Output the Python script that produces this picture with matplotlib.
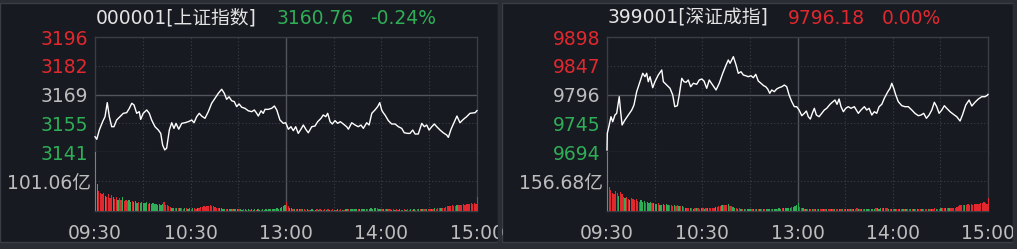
import numpy as np
import matplotlib
matplotlib.use('Agg')
from matplotlib import pyplot as plt
from matplotlib.patches import Rectangle

# ---- data: Shanghai composite (000001) ----
sh_t = [0, 1.1, 2.7, 4.8, 6.3, 7.7, 9.0, 10.5, 11.9, 13.6,
        15.7, 17.8, 19.9, 21.6, 23.1, 24.5, 26.2, 27.8, 28.7, 30.3,
        32.5, 34.1, 35.6, 37.7, 39.8, 41.3, 42.5, 43.8, 45.0, 46.7,
        48.2, 49.6, 50.9, 52.6, 54.5, 56.5, 58.6, 60.8, 62.2, 63.9,
        65.5, 67.0, 69.1, 71.2, 73.3, 75.4, 77.5, 79.6, 81.2, 82.7,
        84.2, 85.9, 87.5, 89.0, 90.5, 92.2, 94.2, 96.3, 98.5, 100.1,
        101.6, 102.6, 104.3, 105.7, 106.8, 108.9, 111.0, 112.7, 114.2, 116.2,
        118.3, 119.8, 121.5, 123.1, 124.6, 126.1, 127.7, 129.4, 130.9, 132.4,
        134.0, 136.2, 138.2, 139.9, 142.0, 143.4, 145.0, 146.2, 147.7, 149.1,
        150.8, 152.5, 154.1, 156.0, 158.1, 159.2, 161.3, 163.4, 165.4, 167.1,
        168.6, 170.7, 172.2, 173.9, 175.9, 177.6, 178.9, 180.1, 181.1, 182.2,
        184.3, 186.4, 188.5, 190.6, 192.7, 194.3, 196.5, 197.9, 199.6, 201.1,
        203.1, 205.3, 206.9, 208.4, 209.9, 211.6, 213.2, 214.7, 216.8, 218.8,
        221.0, 222.0, 223.7, 225.8, 227.4, 229.3, 231.4, 233.5, 235.6, 238.8,
        240]
sh_p = [3148.3, 3147.1, 3151.5, 3155.5, 3157.9, 3164.6, 3157.9, 3153.1, 3153.1, 3156.3,
        3157.9, 3159.5, 3159.8, 3161.9, 3164.3, 3163.5, 3159.5, 3160.3, 3156.6, 3159.5,
        3161.1, 3159.5, 3156.3, 3153.1, 3151.5, 3149.9, 3144.3, 3142.0, 3142.8, 3151.5,
        3155.0, 3152.3, 3154.7, 3151.9, 3154.7, 3155.0, 3155.5, 3156.3, 3155.0, 3157.9,
        3159.5, 3158.2, 3157.1, 3160.3, 3164.3, 3166.7, 3169.1, 3171.0, 3169.1, 3166.2,
        3167.4, 3165.5, 3165.1, 3162.7, 3164.0, 3162.4, 3161.9, 3160.7, 3160.3, 3161.1,
        3159.5, 3158.2, 3160.7, 3159.5, 3161.4, 3161.4, 3161.9, 3163.0, 3161.1, 3156.3,
        3154.7, 3155.0, 3151.9, 3153.1, 3151.2, 3153.1, 3149.9, 3151.9, 3153.9, 3151.9,
        3150.2, 3153.1, 3153.4, 3155.5, 3157.1, 3158.7, 3157.9, 3159.5, 3155.5, 3154.4,
        3156.0, 3154.7, 3155.5, 3154.4, 3153.1, 3151.9, 3155.0, 3153.9, 3153.1, 3153.9,
        3152.3, 3155.0, 3153.9, 3159.5, 3161.1, 3162.7, 3164.6, 3161.1, 3159.8, 3158.7,
        3156.0, 3154.4, 3154.4, 3153.1, 3152.3, 3150.2, 3149.9, 3149.9, 3151.5, 3149.6,
        3149.6, 3154.7, 3153.1, 3153.9, 3151.5, 3153.1, 3154.4, 3153.1, 3151.5, 3150.2,
        3149.1, 3148.0, 3151.9, 3155.5, 3158.2, 3155.0, 3156.6, 3157.9, 3159.5, 3159.8,
        3160.8]
sh_vol = [202, 92, 66, 60, 56, 62, 50, 48, 58, 44, 52, 46, 40, 48, 38, 42, 36, 45, 34, 38,
          33, 36, 30, 34, 28, 32, 27, 30, 26, 29, 27, 25, 28, 24, 26, 22, 25, 21, 23, 20,
          22, 19, 24, 28, 20, 18, 15, 12, 10, 9, 8, 9, 7, 8, 7, 6, 8, 7, 6, 7,
          6, 7, 8, 6, 9, 10, 12, 11, 14, 13, 16, 15, 18, 14, 17, 12, 10, 8, 9, 7,
          6, 5, 6, 5, 4, 5, 4, 5, 4, 4, 5, 4, 3, 4, 4, 3, 4, 3, 4, 3,
          4, 3, 4, 3, 3, 4, 3, 4, 3, 4, 5, 4, 6, 5, 7, 6, 9, 12, 15, 18,
          30, 16, 10, 7, 6, 5, 5, 4, 4, 5, 4, 4, 3, 4, 3, 3, 4, 3, 3, 4,
          3, 4, 3, 3, 4, 3, 4, 3, 3, 4, 3, 3, 4, 3, 4, 3, 3, 4, 5, 4,
          4, 5, 4, 4, 5, 4, 5, 4, 4, 5, 4, 6, 5, 7, 6, 8, 9, 7, 6, 5,
          5, 4, 4, 5, 4, 4, 3, 4, 3, 4, 3, 4, 3, 3, 4, 3, 4, 3, 4, 3,
          4, 3, 4, 4, 5, 4, 5, 4, 5, 6, 5, 6, 5, 7, 6, 7, 8, 7, 9, 8,
          12, 14, 16, 15, 18, 17, 16, 19, 18, 20, 19, 21, 20, 22, 21, 23, 25, 24, 26, 22, 48]
sh_dir = ("ggrrrrgrrrrgrrgrrgrr" "rggrgggrgggggrgggggg" "gggrrrrrggrgrgrrgrgg"
          "rgrrgrrrrrrrrrrrrrgg" "ggrgggrgggrggrgggrgg" "grggrgggrggggrgggggg"
          "rrggrgrggrgrrgrggrgr" "grgrrgrgrrgrgrrgrggr" "ggrggrgggggrgggggrgg"
          "rgrgrrgrgrrgrgrgrrgr" "grrgrgrrgrrgrgrrrgrr" "rrrrrrrgrrrrrrrrrrrrr")
sh_ticks = ['3141', '3155', '3169', '3182', '3196']
sh_range = (3141.0, 3196.0)
sh_vmax = 101.06

# ---- data: Shenzhen component (399001) ----
sz_t = [0, 0.2, 1.4, 2.5, 3.6, 5.0, 6.1, 7.7, 8.6, 9.5,
        11.3, 13.4, 15.6, 17.0, 18.7, 20.8, 22.5, 23.9, 25.0, 26.0,
        27.1, 28.8, 30.2, 32.3, 34.5, 35.5, 37.6, 39.7, 41.4, 42.7,
        44.3, 45.5, 47.1, 48.5, 49.8, 51.2, 52.7, 54.4, 56.5, 58.1,
        59.7, 61.1, 62.8, 64.4, 66.6, 68.7, 70.7, 72.9, 75.0, 76.4,
        77.5, 79.6, 81.3, 82.7, 84.4, 85.9, 87.4, 89.0, 90.7, 92.2,
        93.7, 95.3, 97.0, 98.7, 100.0, 101.2, 102.5, 103.8, 105.4, 106.9,
        108.4, 110.1, 111.7, 113.2, 114.7, 116.4, 118.0, 119.5, 121.0, 122.7,
        124.3, 125.6, 126.8, 128.1, 129.3, 130.6, 131.9, 133.6, 135.3, 136.9,
        138.4, 140.5, 141.9, 143.6, 144.9, 146.2, 147.4, 148.9, 150.4, 152.0,
        153.7, 155.8, 158.3, 160.0, 162.1, 163.6, 165.1, 166.8, 168.4, 169.9,
        171.4, 173.1, 174.7, 176.9, 178.3, 179.4, 180.6, 181.9, 183.5, 185.7,
        187.7, 189.8, 192.0, 194.0, 196.1, 197.8, 199.5, 201.2, 202.9, 204.6,
        206.2, 207.7, 209.2, 210.9, 212.5, 214.0, 216.1, 218.2, 220.3, 222.4,
        223.9, 226.0, 228.1, 229.8, 231.8, 233.9, 236.1, 238.1, 239.8, 240]
sz_p = [9697.5, 9727.2, 9741.9, 9756.6, 9747.7, 9759.6, 9762.6, 9792.1, 9765.5, 9741.9,
        9750.8, 9759.6, 9768.5, 9777.4, 9801.0, 9818.7, 9833.6, 9827.6, 9833.6, 9818.7,
        9827.6, 9808.1, 9818.7, 9830.6, 9839.5, 9818.7, 9812.8, 9807.0, 9795.1, 9774.4,
        9776.1, 9795.1, 9824.7, 9818.7, 9817.6, 9821.7, 9809.8, 9815.9, 9814.1, 9821.7,
        9823.5, 9819.9, 9807.0, 9821.7, 9812.8, 9804.0, 9815.9, 9833.6, 9848.3, 9857.2,
        9851.3, 9863.1, 9848.3, 9833.6, 9836.4, 9830.6, 9829.3, 9827.6, 9829.3, 9825.8,
        9831.8, 9819.9, 9815.9, 9811.6, 9809.8, 9805.8, 9798.1, 9804.0, 9801.0, 9805.8,
        9808.1, 9809.8, 9812.8, 9809.8, 9795.1, 9783.2, 9774.4, 9774.4, 9768.5, 9758.4,
        9762.6, 9766.7, 9756.6, 9752.5, 9762.6, 9771.5, 9759.6, 9756.6, 9762.6, 9768.5,
        9771.5, 9778.6, 9782.2, 9786.2, 9778.6, 9788.0, 9774.4, 9765.5, 9771.5, 9774.4,
        9771.5, 9774.4, 9762.6, 9768.5, 9774.4, 9768.5, 9771.5, 9759.6, 9765.5, 9762.6,
        9774.4, 9778.6, 9789.3, 9801.0, 9807.0, 9815.9, 9807.0, 9795.1, 9783.2, 9776.1,
        9774.4, 9774.4, 9768.5, 9762.6, 9758.4, 9759.6, 9762.6, 9753.8, 9759.6, 9768.5,
        9782.2, 9774.4, 9762.6, 9768.5, 9776.1, 9771.5, 9765.5, 9760.9, 9756.6, 9749.0,
        9759.6, 9777.4, 9786.2, 9775.6, 9782.2, 9788.0, 9792.1, 9792.1, 9795.1, 9796.2]
sz_vol = [313, 128, 110, 96, 88, 104, 92, 80, 100, 86, 72, 66, 70, 62, 58, 66, 60, 55, 62, 52,
          48, 54, 44, 50, 42, 46, 40, 44, 38, 42, 36, 34, 38, 32, 30, 35, 28, 33, 30, 27,
          30, 26, 28, 25, 27, 24, 26, 22, 18, 14, 12, 13, 11, 12, 10, 12, 11, 13, 10, 12,
          11, 10, 12, 11, 13, 12, 14, 16, 18, 20, 22, 26, 28, 30, 32, 28, 34, 26, 22, 18,
          14, 12, 10, 11, 9, 10, 9, 10, 8, 9, 10, 9, 8, 9, 8, 10, 9, 8, 9, 8,
          9, 8, 9, 10, 9, 8, 10, 9, 11, 10, 12, 11, 13, 12, 14, 16, 18, 20, 24, 30,
          38, 20, 14, 11, 10, 9, 10, 9, 8, 9, 8, 9, 10, 8, 9, 8, 10, 9, 8, 9,
          8, 9, 8, 10, 9, 8, 9, 10, 9, 8, 9, 8, 10, 9, 8, 9, 10, 11, 10, 9,
          10, 9, 8, 9, 10, 9, 8, 9, 10, 11, 12, 10, 11, 12, 13, 12, 11, 10, 9, 10,
          9, 10, 9, 8, 9, 10, 9, 8, 9, 8, 9, 10, 9, 8, 9, 8, 9, 10, 9, 8,
          9, 8, 9, 10, 9, 10, 11, 10, 9, 10, 11, 12, 11, 12, 13, 12, 14, 13, 15, 14,
          18, 24, 28, 30, 27, 31, 29, 33, 30, 34, 32, 35, 33, 37, 36, 40, 38, 43, 42, 36, 66]
sz_dir = ("grrrrrrgrrrgrrgrrrrr" "rgggrgggrgggrgggrggr" "rrgrrgrgrgrrgrgrgrrg"
          "rgrgrrrrgrrrgrrrgrrg" "grgrgrgrgggrgrgrgrgr" "gggrgggrggrgggggrggg"
          "grrgrgrgrgrgrgrrgrgr" "rgrgrrgrgrggrgrgrrgr" "grgggrgggrgggrgrrgrg"
          "rgrrgrgrgrrgrgrgrrgr" "rrgrgrrgrrgrrgrgrrrr" "rrrrrgrrrrrrrrrrrrrrr")
sz_ticks = ['9694', '9745', '9796', '9847', '9898']
sz_range = (9694.0, 9898.0)
sz_vmax = 156.68

time_labels = ['09:30', '10:30', '13:00', '14:00', '15:00']

W, H = 1017, 249
BG = '#181a21'
GAP = '#2b2d34'
EDGE = '#3a3d45'
DOT = '#3c3f48'
MID = '#52555d'
RED = '#e0282e'
GREEN = '#2fae57'
GRAY = '#bdbdbd'
WHITE = '#e4e4e4'
FONT = ['DejaVu Sans', 'Noto Sans CJK SC']
FS = 13.5

plt.rcParams['font.family'] = FONT


def fx(px):
    return px / W


def fy(py):
    return 1 - py / H


def draw_panel(fig, x0, x1, t, p, vol, dirs, ticks, prange, vmax):
    axp = fig.add_axes([fx(x0), fy(152), (x1 - x0) / W, 115 / H])
    axv = fig.add_axes([fx(x0), fy(210.5), (x1 - x0) / W, 58.5 / H])
    for ax in (axp, axv):
        ax.set_facecolor(BG)
        ax.set_xlim(0, 240)
        for s in ax.spines.values():
            s.set_color(EDGE)
            s.set_linewidth(1)
        ax.tick_params(length=0)
        for m in (30, 60, 90, 150, 180, 210):
            ax.axvline(m, color=DOT, lw=0.8, ls=(0, (1, 2)), zorder=1)
        ax.axvline(120, color=MID, lw=1, zorder=1)

    # price panel
    lo, hi = prange
    tick_pos = np.linspace(lo, hi, len(ticks))
    axp.set_ylim(lo, hi)
    axp.set_yticks(tick_pos)
    axp.set_yticklabels(ticks, fontsize=FS)
    cols = [GREEN, GREEN, GRAY, RED, RED]
    for lab, c in zip(axp.get_yticklabels(), cols):
        lab.set_color(c)
    axp.tick_params(axis='y', pad=5)
    axp.set_xticks([])
    axp.axhline(tick_pos[1], color=DOT, lw=0.8, ls=(0, (1, 2)), zorder=1)
    axp.axhline(tick_pos[3], color=DOT, lw=0.8, ls=(0, (1, 2)), zorder=1)
    axp.axhline(tick_pos[2], color=MID, lw=1, zorder=1)
    axp.plot(t, p, color='white', lw=1.0, zorder=3, clip_on=False)

    # volume panel: one bar per minute, drawn just right of its minute
    minutes = np.arange(len(vol))
    colors = [RED if d == 'r' else GREEN for d in dirs]
    axv.bar(minutes, vol, width=0.8, align='edge', color=colors,
            zorder=3, clip_on=False)
    axv.set_ylim(0, vmax * 2)
    axv.set_yticks([vmax])
    axv.set_yticklabels(['%.2f亿' % vmax], fontsize=FS, color=GRAY)
    axv.tick_params(axis='y', pad=3)
    axv.axhline(vmax, color=DOT, lw=0.8, ls=(0, (1, 2)), zorder=1)
    axv.spines['top'].set_visible(False)
    axv.set_xticks([0, 60, 120, 180, 240])
    axv.set_xticklabels(time_labels, fontsize=FS, color=GRAY)
    axv.tick_params(axis='x', pad=10)
    return axp, axv


fig = plt.figure(figsize=(W / 100, H / 100), dpi=100)
fig.patch.set_facecolor(GAP)

# panel backgrounds
for (a, b) in ((0, 498), (502, 1013)):
    fig.add_artist(Rectangle((fx(a), fy(242)), (b - a) / W, 239 / H,
                             transform=fig.transFigure, facecolor=BG,
                             edgecolor=EDGE, lw=1, zorder=-1))

draw_panel(fig, 95, 477, sh_t, sh_p, sh_vol, sh_dir, sh_ticks, sh_range, sh_vmax)
draw_panel(fig, 607, 988, sz_t, sz_p, sz_vol, sz_dir, sz_ticks, sz_range, sz_vmax)

# clip the right-most time labels at the panel edges
for (a, b) in ((498, 502), (1013, 1017)):
    fig.add_artist(Rectangle((fx(a), 0), (b - a) / W, 1,
                             transform=fig.transFigure, facecolor=GAP,
                             edgecolor='none', zorder=2))

# titles
fig.text(fx(96), fy(18), '000001[上证指数]', color=WHITE, fontsize=FS, va='center')
fig.text(fx(277), fy(18), '3160.76', color=GREEN, fontsize=FS, va='center')
fig.text(fx(370), fy(18), '-0.24%', color=GREEN, fontsize=FS, va='center')
fig.text(fx(608), fy(18), '399001[深证成指]', color=WHITE, fontsize=FS, va='center')
fig.text(fx(788), fy(18), '9796.18', color=RED, fontsize=FS, va='center')
fig.text(fx(882), fy(18), '0.00%', color=RED, fontsize=FS, va='center')

plt.savefig('out.png', dpi=100, facecolor=fig.get_facecolor())
